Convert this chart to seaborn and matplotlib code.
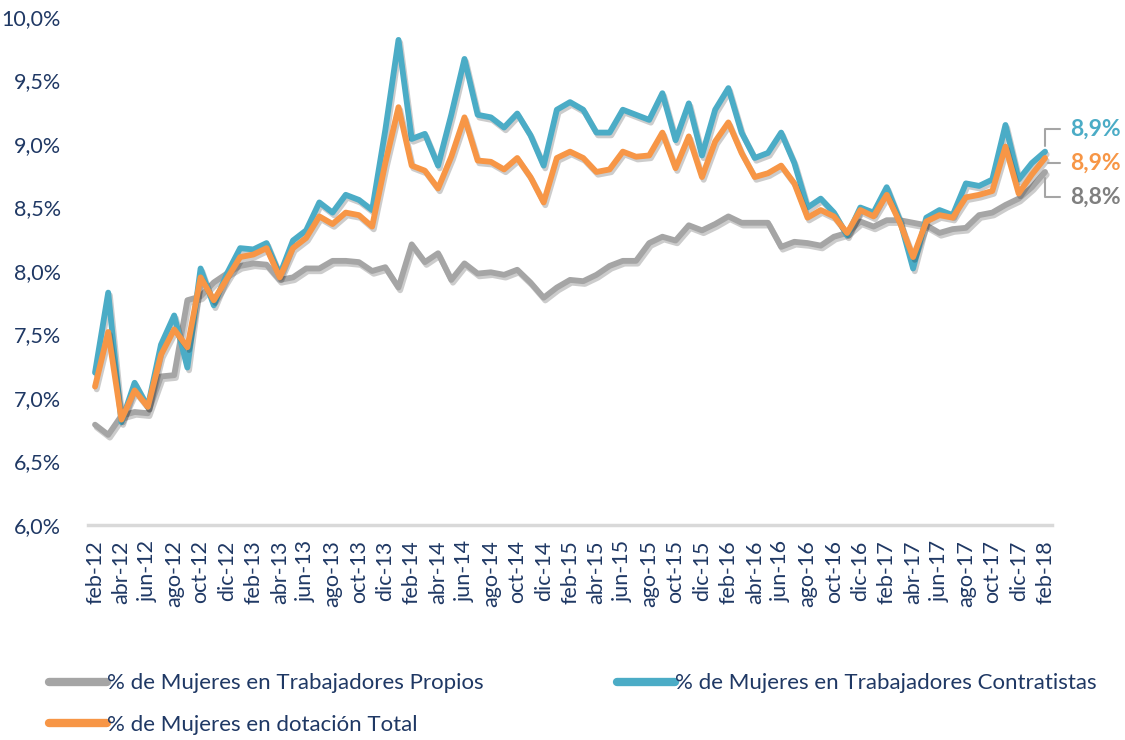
import numpy as np
import pandas as pd
import matplotlib
matplotlib.use("Agg")
import matplotlib.pyplot as plt
import matplotlib.patheffects as pe
import seaborn as sns

# Monthly categories feb-12 .. feb-18
month_abbr = ['ene', 'feb', 'mar', 'abr', 'may', 'jun', 'jul', 'ago', 'sep', 'oct', 'nov', 'dic']
months = [f"{month_abbr[(m - 1) % 12]}-{12 + (m - 1) // 12}" for m in range(2, 2 + 73)]

propios = [6.79, 6.71, 6.86, 6.89, 6.88, 7.17, 7.18, 7.77, 7.80, 7.91, 7.98, 8.04,
           8.06, 8.05, 7.93, 7.95, 8.02, 8.02, 8.08, 8.08, 8.07, 8.00, 8.03, 7.87,
           8.21, 8.07, 8.14, 7.93, 8.06, 7.98, 7.99, 7.97, 8.01, 7.91, 7.79, 7.87,
           7.93, 7.92, 7.97, 8.04, 8.08, 8.08, 8.22, 8.27, 8.24, 8.36, 8.32, 8.37,
           8.43, 8.38, 8.38, 8.38, 8.19, 8.23, 8.22, 8.20, 8.27, 8.30, 8.39, 8.35,
           8.40, 8.40, 8.38, 8.36, 8.30, 8.33, 8.34, 8.44, 8.46, 8.52, 8.57, 8.66,
           8.78]
contratistas = [7.20, 7.83, 6.81, 7.12, 6.93, 7.42, 7.65, 7.24, 8.02, 7.73, 7.98, 8.18,
                8.17, 8.22, 7.97, 8.24, 8.32, 8.54, 8.46, 8.60, 8.56, 8.48, 9.11, 9.82,
                9.04, 9.08, 8.83, 9.23, 9.67, 9.23, 9.21, 9.13, 9.24, 9.07, 8.83, 9.27,
                9.33, 9.27, 9.09, 9.09, 9.27, 9.23, 9.19, 9.40, 9.03, 9.32, 8.91, 9.27,
                9.44, 9.09, 8.89, 8.93, 9.09, 8.85, 8.50, 8.57, 8.46, 8.28, 8.50, 8.46,
                8.66, 8.40, 8.02, 8.42, 8.48, 8.44, 8.69, 8.67, 8.72, 9.15, 8.72, 8.85,
                8.94]
total = [7.09, 7.52, 6.83, 7.06, 6.93, 7.34, 7.54, 7.40, 7.95, 7.77, 7.94, 8.11,
         8.13, 8.18, 7.95, 8.18, 8.26, 8.43, 8.37, 8.46, 8.44, 8.35, 8.85, 9.29,
         8.83, 8.79, 8.65, 8.90, 9.21, 8.87, 8.86, 8.80, 8.89, 8.74, 8.54, 8.89,
         8.94, 8.89, 8.78, 8.80, 8.94, 8.90, 8.91, 9.09, 8.81, 9.06, 8.74, 9.02,
         9.17, 8.93, 8.74, 8.77, 8.83, 8.69, 8.42, 8.48, 8.43, 8.30, 8.48, 8.43,
         8.60, 8.38, 8.11, 8.39, 8.44, 8.42, 8.58, 8.60, 8.63, 8.98, 8.61, 8.76,
         8.89]

lbl_prop = "% de Mujeres en Trabajadores Propios"
lbl_cont = "% de Mujeres en Trabajadores Contratistas"
lbl_tot = "% de Mujeres en dotación Total"

df = pd.DataFrame({
    "idx": list(range(len(months))) * 3,
    "valor": propios + contratistas + total,
    "serie": [lbl_prop] * len(months) + [lbl_cont] * len(months) + [lbl_tot] * len(months),
})

colors = {lbl_prop: "#A5A5A5", lbl_cont: "#4BACC6", lbl_tot: "#F79646"}
navy = "#1F3864"

sns.set_theme(style="white")
plt.rcParams["font.family"] = ["Lato", "DejaVu Sans"]

fig = plt.figure(figsize=(11.25, 7.4), dpi=100)
ax = fig.add_axes([0.0786, 0.2905, 0.8562, 0.6865])

sns.lineplot(data=df, x="idx", y="valor", hue="serie",
             hue_order=[lbl_prop, lbl_cont, lbl_tot], palette=colors,
             linewidth=4.2, ax=ax, legend=True)

for line in ax.lines:
    line.set_solid_capstyle("round")
    line.set_solid_joinstyle("round")
    line.set_path_effects([pe.SimpleLineShadow(offset=(1.2, -2), alpha=0.22, shadow_color="k"),
                           pe.Normal()])

ax.set_xlim(-0.5, len(months) - 0.5)
ax.set_ylim(6.0, 10.0)
ax.set_yticks(np.arange(6.0, 10.01, 0.5))
ax.set_yticklabels([f"{v:.1f}%".replace(".", ",") for v in np.arange(6.0, 10.01, 0.5)])
ax.set_xticks(range(0, len(months), 2))
ax.set_xticklabels(months[::2], rotation=90)
ax.set_xticks(np.arange(-0.5, len(months), 1), minor=True)
ax.tick_params(axis="x", which="major", length=0, pad=11, labelsize=15.5, labelcolor=navy)
ax.tick_params(axis="x", which="minor", length=8, width=1.5, direction="inout", color="#D9D9D9")
ax.tick_params(axis="y", length=0, pad=20, labelsize=15.5, labelcolor=navy)
ax.set_xlabel("")
ax.set_ylabel("")
for s in ["left", "top", "right"]:
    ax.spines[s].set_visible(False)
ax.spines["bottom"].set_color("#D9D9D9")
ax.spines["bottom"].set_linewidth(2.5)

# end-point labels with leader lines
last = len(months) - 1
for vals, lbl, dy in [(contratistas, lbl_cont, 16), (total, lbl_tot, -3.5), (propios, lbl_prop, -18)]:
    v = vals[-1]
    ax.annotate(f"{v:.1f}%".replace(".", ","), xy=(last, v), xytext=(18, dy),
                textcoords="offset points", ha="left", va="center",
                fontsize=16.5, fontweight="bold", color=colors[lbl] if lbl != lbl_prop else "#7F7F7F",
                annotation_clip=False,
                arrowprops=dict(arrowstyle="-", color="#A5A5A5", lw=1.5,
                                connectionstyle="angle,angleA=0,angleB=90,rad=0",
                                shrinkA=5, shrinkB=4))

handles, labels = ax.get_legend_handles_labels()
ax.get_legend().remove()
h = dict(zip(labels, handles))
order = [lbl_prop, lbl_tot, lbl_cont]
leg = fig.legend([h[k] for k in order], order, loc="upper left",
                 bbox_to_anchor=(0.036, 0.102), ncol=2, frameon=False,
                 fontsize=16, handlelength=2.6, handletextpad=0.0,
                 columnspacing=6.0, labelspacing=0.95, borderaxespad=0)
for t in leg.get_texts():
    t.set_color(navy)
for l in leg.get_lines():
    l.set_linewidth(6)
    l.set_path_effects([])

fig.savefig("out.png", dpi=100)
